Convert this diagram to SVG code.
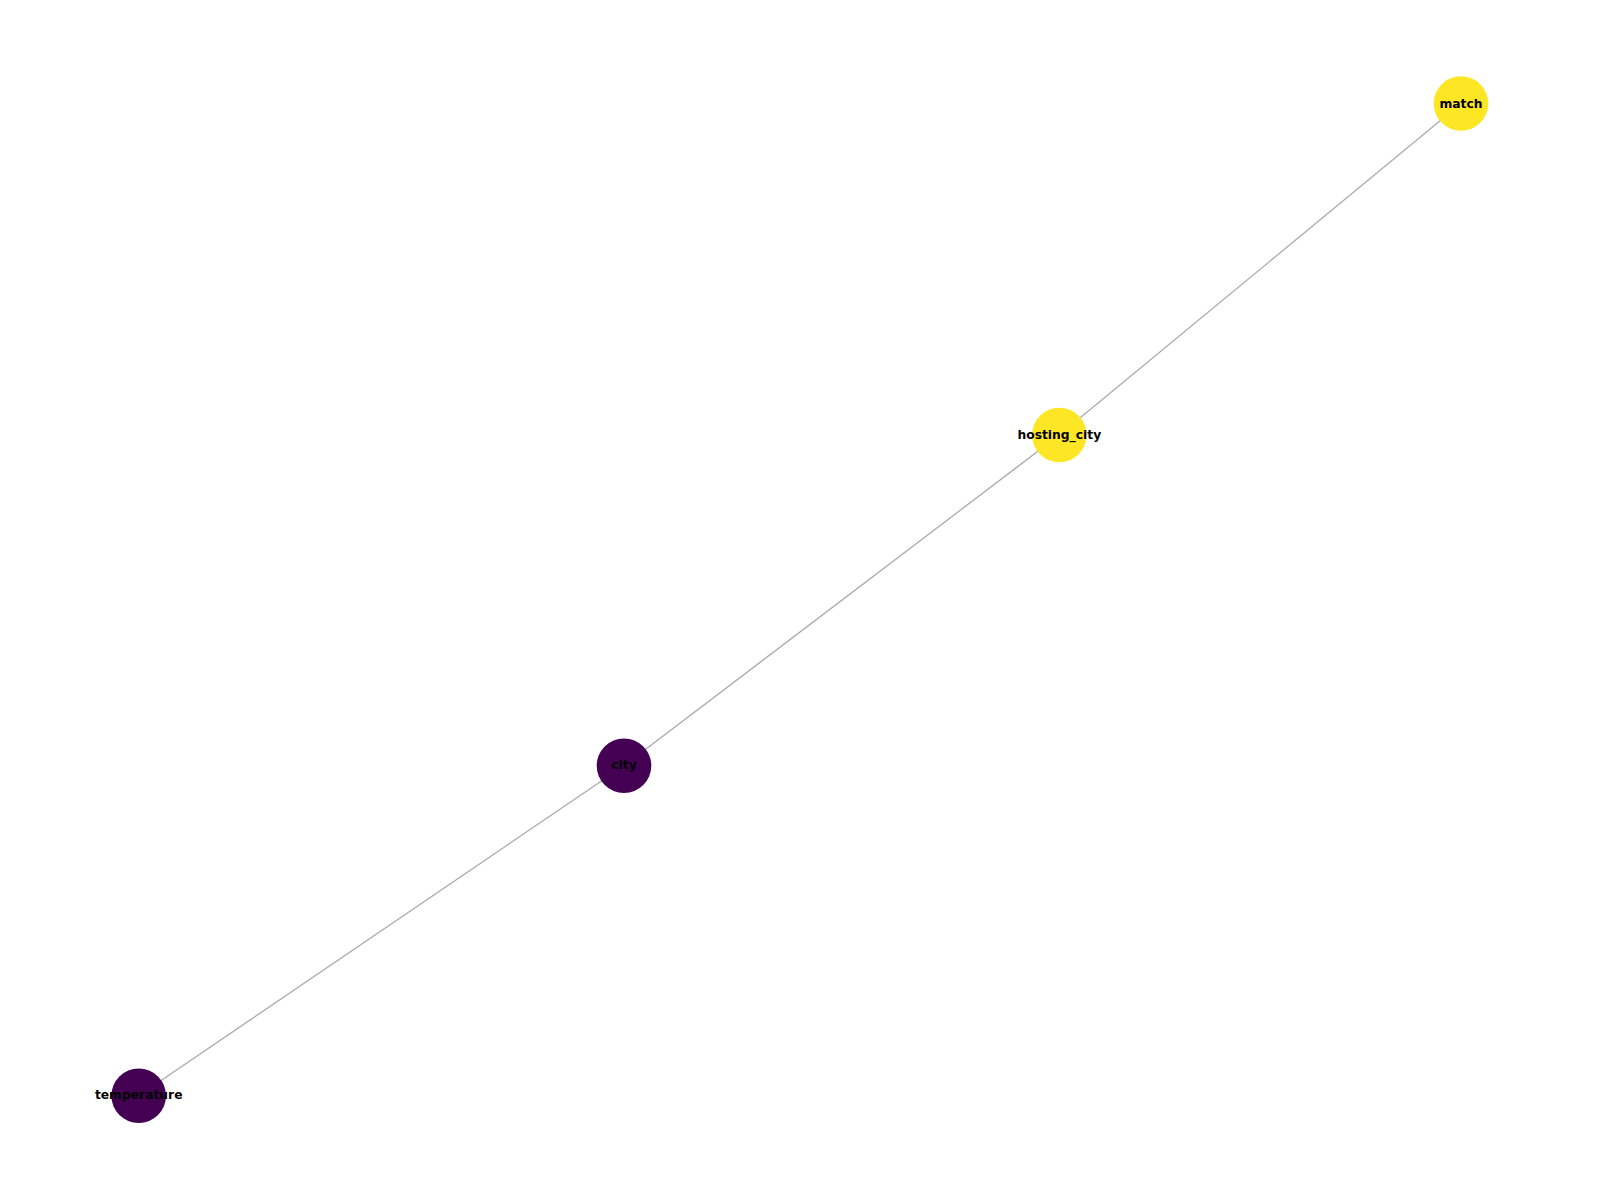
<svg xmlns="http://www.w3.org/2000/svg" width="1600" height="1200" viewBox="0 0 1600 1200">
<style>
.edge{stroke:#aaaaaa;stroke-width:1.3;fill:none}
.yel{fill:#fde725}
.pur{fill:#440154}
.lbl{font-family:"DejaVu Sans",sans-serif;font-weight:bold;font-size:12.3px;fill:#000;text-anchor:middle;dominant-baseline:central}
</style>
<rect width="1600" height="1200" fill="#fff"/>
<g id="edges">
<line class="edge" x1="1461" y1="103.5" x2="1059.3" y2="435"/>
<line class="edge" x1="1059.3" y1="435" x2="624" y2="765.7"/>
<line class="edge" x1="624" y1="765.7" x2="138.7" y2="1095.7"/>
</g>
<g id="match"><circle class="yel" cx="1461" cy="103.5" r="27.3"/><text class="lbl" x="1461" y="103.5">match</text></g>
<g id="hosting_city"><circle class="yel" cx="1059.3" cy="435" r="27.3"/><text class="lbl" x="1059.3" y="434.5">hosting_city</text></g>
<g id="city"><circle class="pur" cx="624" cy="765.7" r="27.3"/><text class="lbl" x="624" y="765.2">city</text></g>
<g id="temperature"><circle class="pur" cx="138.7" cy="1095.7" r="27.3"/><text class="lbl" x="138.7" y="1095.2">temperature</text></g>
</svg>
